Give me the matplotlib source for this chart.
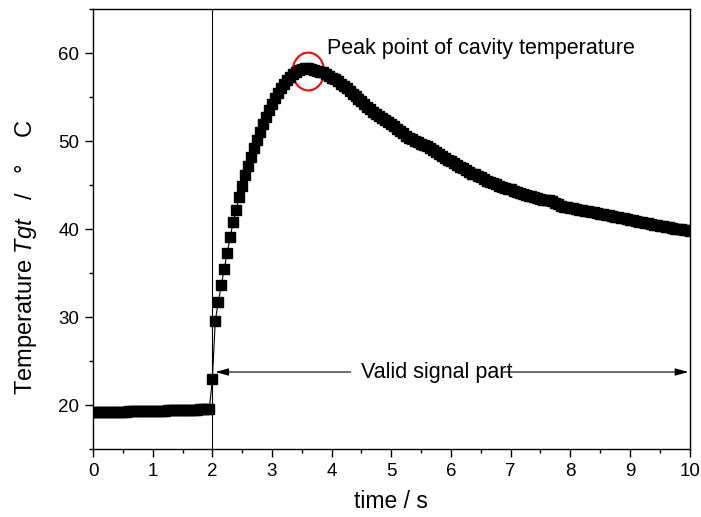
import matplotlib
matplotlib.use("Agg")
import matplotlib.pyplot as plt
import numpy as np
from matplotlib.patches import Ellipse

plt.rcParams["font.family"] = ["Liberation Sans", "DejaVu Sans"]
plt.rcParams["mathtext.fontset"] = "custom"
plt.rcParams["mathtext.rm"] = "Liberation Sans"
plt.rcParams["mathtext.it"] = "Liberation Sans:italic"

# cavity temperature, sampled every 0.05 s
temp_base = [19.20, 19.20, 19.21, 19.21, 19.22, 19.22, 19.23, 19.23, 19.24, 19.25,
             19.25, 19.26, 19.27, 19.27, 19.28, 19.29, 19.30, 19.30, 19.31, 19.32,
             19.33, 19.34, 19.35, 19.36, 19.37, 19.38, 19.39, 19.40, 19.41, 19.42,
             19.43, 19.44, 19.45, 19.46, 19.47, 19.48, 19.50, 19.51, 19.53, 19.60]
temp_rise = [22.9, 29.6, 31.7, 33.6, 35.5, 37.3, 39.1, 40.8, 42.2, 43.6,
             44.9, 46.1, 47.2, 48.2, 49.2, 50.1, 51.0, 51.9, 52.7, 53.5,
             54.2, 54.9, 55.5, 56.0, 56.5, 56.9, 57.3, 57.6, 57.9, 58.1,
             58.2, 58.3, 58.3, 58.2, 58.1, 58.0, 57.9, 57.8, 57.6, 57.4,
             57.2]
temp_decay = [57.0, 56.8, 56.5, 56.3, 56.0, 55.7, 55.4, 55.1, 54.8, 54.5,
              54.2, 53.9, 53.6, 53.3, 53.1, 52.8, 52.6, 52.4, 52.2, 51.9,
              51.7, 51.4, 51.1, 50.9, 50.6, 50.4, 50.2, 50.0, 49.9, 49.7,
              49.5, 49.4, 49.2, 49.0, 48.7, 48.5, 48.3, 48.1, 47.9, 47.7,
              47.5, 47.3, 47.1, 46.9, 46.7, 46.5, 46.3, 46.2, 46.0, 45.9,
              45.7, 45.5, 45.4, 45.2, 45.1, 44.9, 44.8, 44.7, 44.6, 44.5,
              44.3, 44.2, 44.1, 44.0, 43.9, 43.8, 43.7, 43.6, 43.5, 43.4,
              43.35, 43.3, 43.25, 43.2, 43.0, 42.8, 42.65, 42.55, 42.5, 42.4,
              42.35, 42.3, 42.2, 42.15, 42.1, 42.0, 41.95, 41.9, 41.8, 41.75,
              41.7, 41.6, 41.55, 41.5, 41.4, 41.35, 41.3, 41.2, 41.1, 41.05,
              41.0, 40.9, 40.85, 40.8, 40.7, 40.65, 40.6, 40.5, 40.45, 40.4,
              40.3, 40.25, 40.2, 40.1, 40.05, 40.0, 39.95, 39.9, 39.85, 39.8]

temp = temp_base + temp_rise + temp_decay
dt = 0.05
time = np.arange(len(temp)) * dt

t_trigger = 2.0
peak_t, peak_T = 3.61, 57.9

fig = plt.figure(figsize=(7.01, 5.17), dpi=100)
ax = fig.add_axes([0.1327, 0.1315, 0.851, 0.851])

ax.plot(time, temp, color="black", lw=0.8, marker="s", ms=6.5, mec="black", mfc="black")

ax.axvline(t_trigger, color="black", lw=0.8)

# valid signal part double arrow, split by the label
arrow = dict(arrowstyle="-|>,head_length=0.8,head_width=0.22", color="black", lw=0.8,
             shrinkA=0, shrinkB=0)
ax.annotate("", xy=(2.05, 23.75), xytext=(4.32, 23.75), arrowprops=arrow)
ax.annotate("", xy=(9.98, 23.75), xytext=(6.88, 23.75), arrowprops=arrow)
ax.text(4.49, 23.75, "Valid signal part", fontsize=15.5, va="center", ha="left")

ax.add_patch(Ellipse((peak_t, peak_T), 0.53, 4.3, fill=False, ec="red", lw=1.5))
ax.text(3.92, 60.5, "Peak point of cavity temperature", fontsize=15.5, va="center", ha="left")

ax.set_xlim(0, 10)
ax.set_ylim(15, 65)
ax.set_xticks(np.arange(0, 11, 1))
ax.set_xticks(np.arange(0, 10.01, 0.5), minor=True)
ax.set_yticks([20, 30, 40, 50, 60])
ax.set_yticks(np.arange(15, 65.01, 5), minor=True)
ax.tick_params(which="major", direction="out", length=6, width=1, labelsize=13.5, pad=4)
ax.tick_params(which="minor", direction="out", length=3, width=1)
for s in ax.spines.values():
    s.set_linewidth(1.0)

ax.set_xlabel("time / s", fontsize=16.5, labelpad=7)
ax.set_ylabel(r"Temperature $\mathit{Tgt}$   /   °    C", fontsize=17)
ax.yaxis.set_label_coords(-0.09, 0.436)

fig.savefig("out.png", dpi=100)
